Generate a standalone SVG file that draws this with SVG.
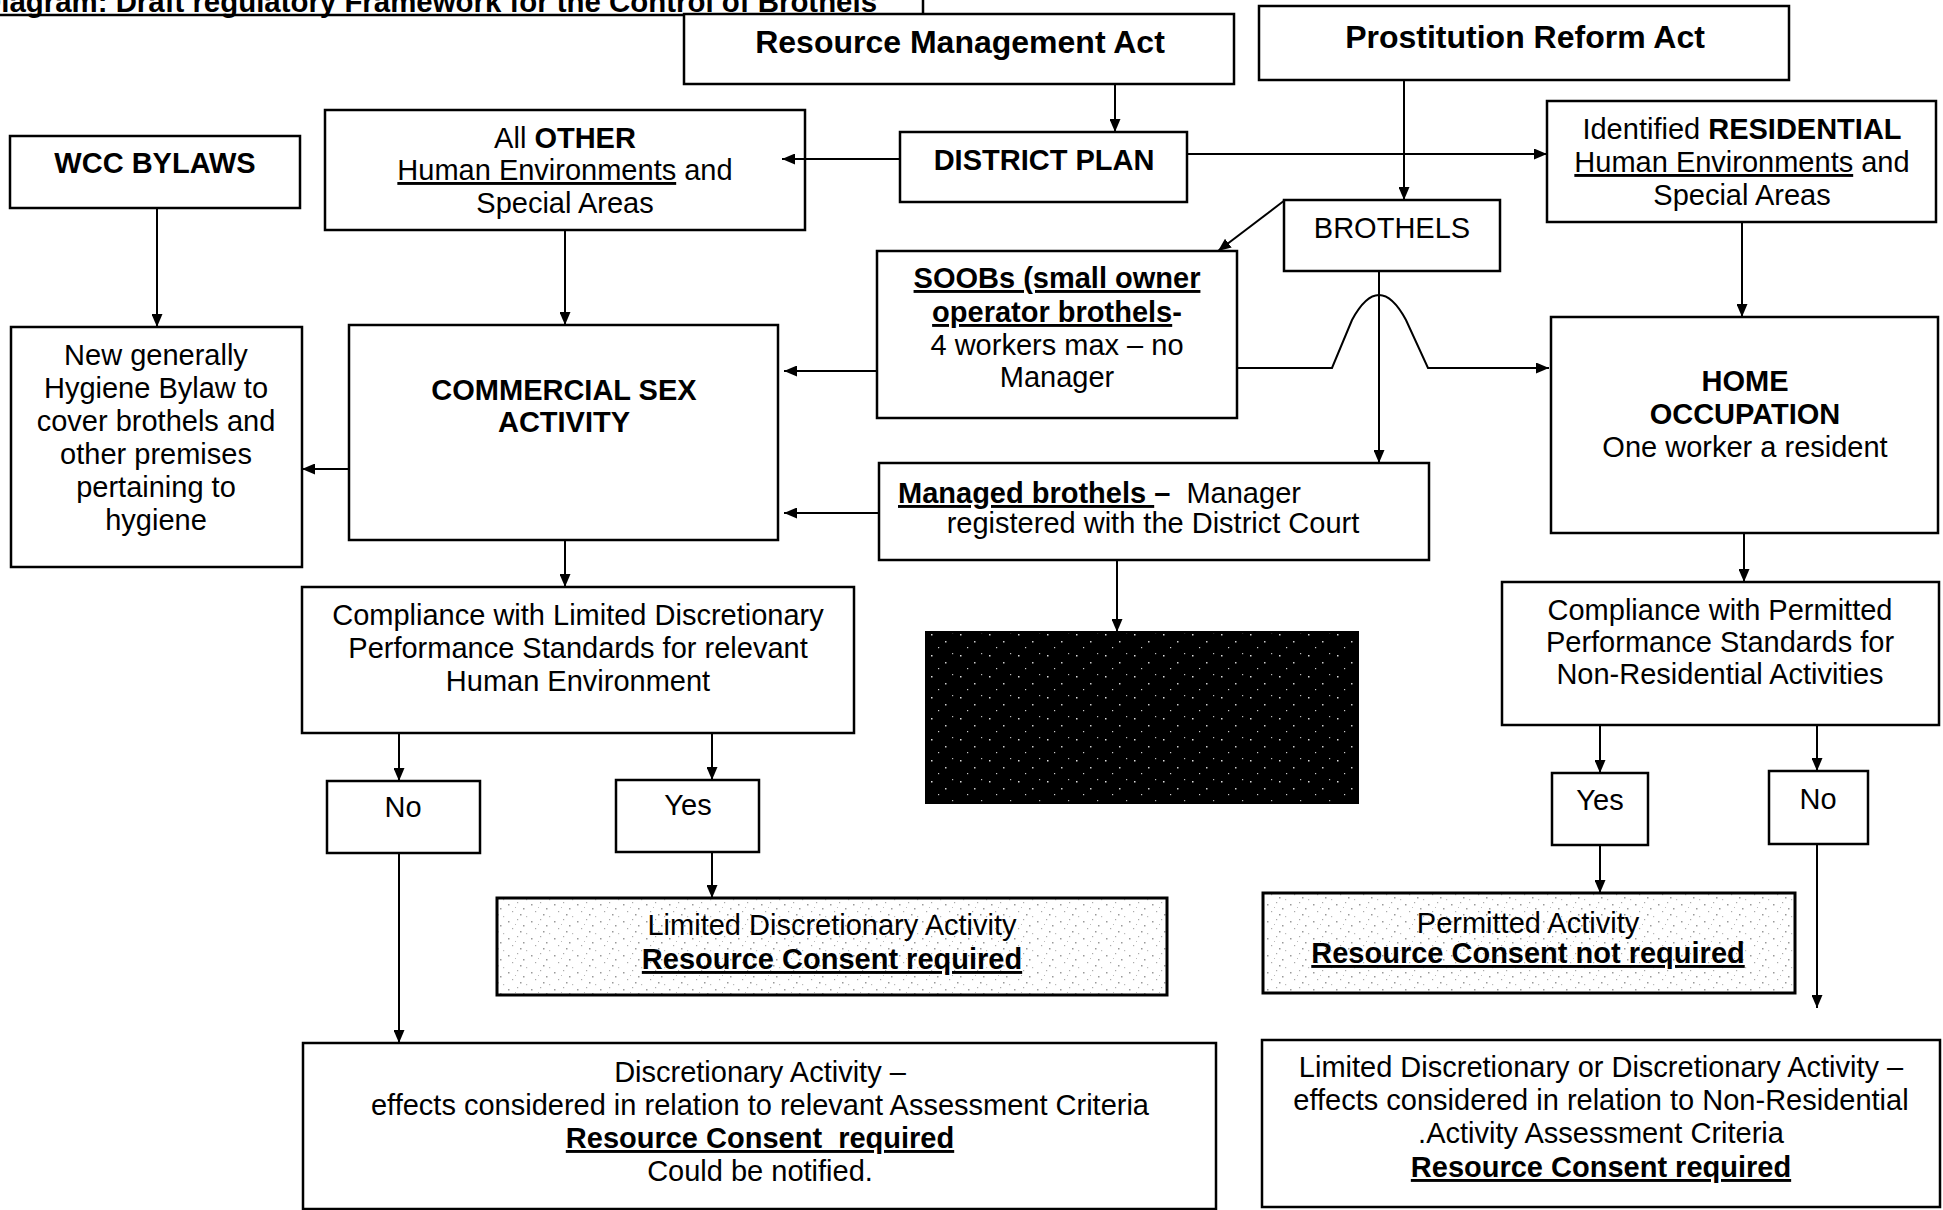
<svg xmlns="http://www.w3.org/2000/svg" width="1943" height="1210" viewBox="0 0 1943 1210">
<defs>
<marker id="ah" viewBox="0 0 13 11" refX="13" refY="5.5" markerWidth="13" markerHeight="11" markerUnits="userSpaceOnUse" orient="auto">
<path d="M0,0 L13,5.5 L0,11 z" fill="#000"/>
</marker>
<pattern id="stip" patternUnits="userSpaceOnUse" width="23" height="17">
<rect width="23" height="17" fill="#fff"/>
<rect x="2" y="3" width="1.5" height="1.5" fill="#999"/>
<rect x="11" y="1" width="1.2" height="1.2" fill="#aaa"/>
<rect x="17" y="7" width="1.5" height="1.5" fill="#999"/>
<rect x="6" y="10" width="1.2" height="1.2" fill="#aaa"/>
<rect x="14" y="13" width="1.5" height="1.5" fill="#999"/>
<rect x="20" y="15" width="1.2" height="1.2" fill="#bbb"/>
<rect x="9" y="6" width="1" height="1" fill="#bbb"/>
</pattern>
<pattern id="dark" patternUnits="userSpaceOnUse" width="29" height="21">
<rect width="29" height="21" fill="#000"/>
<rect x="3" y="4" width="1.5" height="1.5" fill="#ddd"/>
<rect x="17" y="11" width="1.5" height="1.5" fill="#ccc"/>
<rect x="24" y="2" width="1.2" height="1.2" fill="#bbb"/>
<rect x="10" y="17" width="1.2" height="1.2" fill="#ccc"/>
</pattern>
<style>
.b{fill:#fff;stroke:#000;stroke-width:2.5}
.s{fill:url(#stip);stroke:#000;stroke-width:3}
.t{font-family:"Liberation Sans",Arial,Helvetica,sans-serif;font-size:29px;fill:#000;text-anchor:middle}
.h{font-size:32px;font-weight:bold}
.bo{font-weight:bold}
.u{text-decoration:underline}
.c{fill:none;stroke:#000;stroke-width:2;marker-end:url(#ah)}
.l{fill:none;stroke:#000;stroke-width:2.5}
</style>
</defs>
<rect width="1943" height="1210" fill="#fff"/>

<g id="title">
<path class="l" d="M-2,15 L923,15 L923,-2"/>
<text class="t bo" x="-20" y="12" style="text-anchor:start" textLength="897" lengthAdjust="spacingAndGlyphs">Diagram: Draft regulatory Framework for the Control of Brothels</text>
</g>

<g id="rma">
<rect class="b" x="684" y="14" width="550" height="70"/>
<text class="t h" x="960" y="53">Resource Management Act</text>
</g>

<g id="pra">
<rect class="b" x="1259" y="6" width="530" height="74"/>
<text class="t h" x="1525" y="48">Prostitution Reform Act</text>
</g>

<g id="district-plan">
<rect class="b" x="900" y="132" width="287" height="70"/>
<text class="t bo" x="1044" y="170">DISTRICT PLAN</text>
</g>

<g id="all-other">
<rect class="b" x="325" y="110" width="480" height="120"/>
<text class="t" x="565" y="148">All <tspan class="bo">OTHER</tspan></text>
<text class="t" x="565" y="180"><tspan class="u">Human Environments</tspan> and</text>
<text class="t" x="565" y="213">Special Areas</text>
</g>

<g id="wcc-bylaws">
<rect class="b" x="10" y="136" width="290" height="72"/>
<text class="t bo" x="155" y="173">WCC BYLAWS</text>
</g>

<g id="residential">
<rect class="b" x="1547" y="101" width="389" height="121"/>
<text class="t" x="1742" y="139">Identified <tspan class="bo">RESIDENTIAL</tspan></text>
<text class="t" x="1742" y="172"><tspan class="u">Human Environments</tspan> and</text>
<text class="t" x="1742" y="205">Special Areas</text>
</g>

<g id="brothels">
<rect class="b" x="1284" y="200" width="216" height="71"/>
<text class="t" x="1392" y="238">BROTHELS</text>
</g>

<g id="soobs">
<rect class="b" x="877" y="251" width="360" height="167"/>
<text class="t bo u" x="1057" y="288">SOOBs (small owner</text>
<text class="t bo" x="1057" y="322"><tspan class="u">operator brothels</tspan>-</text>
<text class="t" x="1057" y="355">4 workers max – no</text>
<text class="t" x="1057" y="387">Manager</text>
</g>

<g id="commercial">
<rect class="b" x="349" y="325" width="429" height="215"/>
<text class="t bo" x="564" y="400">COMMERCIAL SEX</text>
<text class="t bo" x="564" y="432">ACTIVITY</text>
</g>

<g id="hygiene-bylaw">
<rect class="b" x="11" y="327" width="291" height="240"/>
<text class="t" x="156" y="365">New generally</text>
<text class="t" x="156" y="398">Hygiene Bylaw to</text>
<text class="t" x="156" y="431">cover brothels and</text>
<text class="t" x="156" y="464">other premises</text>
<text class="t" x="156" y="497">pertaining to</text>
<text class="t" x="156" y="530">hygiene</text>
</g>

<g id="home-occupation">
<rect class="b" x="1551" y="317" width="387" height="216"/>
<text class="t bo" x="1745" y="391">HOME</text>
<text class="t bo" x="1745" y="424">OCCUPATION</text>
<text class="t" x="1745" y="457">One worker a resident</text>
</g>

<g id="managed">
<rect class="b" x="879" y="463" width="550" height="97"/>
<text class="t" x="898" y="503" style="text-anchor:start" xml:space="preserve"><tspan class="bo u">Managed brothels </tspan><tspan class="bo">–</tspan>  Manager</text>
<text class="t" x="1153" y="533">registered with the District Court</text>
</g>

<g id="compliance-ld">
<rect class="b" x="302" y="587" width="552" height="146"/>
<text class="t" x="578" y="625">Compliance with Limited Discretionary</text>
<text class="t" x="578" y="658">Performance Standards for relevant</text>
<text class="t" x="578" y="691">Human Environment</text>
</g>

<g id="blacked-out">
<rect x="926" y="632" width="432" height="171" fill="url(#dark)" stroke="#000" stroke-width="2"/>
</g>

<g id="compliance-p">
<rect class="b" x="1502" y="582" width="437" height="143"/>
<text class="t" x="1720" y="620">Compliance with Permitted</text>
<text class="t" x="1720" y="652">Performance Standards for</text>
<text class="t" x="1720" y="684">Non-Residential Activities</text>
</g>

<g id="no-left">
<rect class="b" x="327" y="781" width="153" height="72"/>
<text class="t" x="403" y="817">No</text>
</g>

<g id="yes-left">
<rect class="b" x="616" y="780" width="143" height="72"/>
<text class="t" x="688" y="815">Yes</text>
</g>

<g id="yes-right">
<rect class="b" x="1552" y="773" width="96" height="72"/>
<text class="t" x="1600" y="810">Yes</text>
</g>

<g id="no-right">
<rect class="b" x="1769" y="771" width="99" height="73"/>
<text class="t" x="1818" y="809">No</text>
</g>

<g id="limited-discretionary">
<rect class="s" x="497" y="898" width="670" height="97"/>
<text class="t" x="832" y="935">Limited Discretionary Activity</text>
<text class="t bo u" x="832" y="969">Resource Consent required</text>
</g>

<g id="permitted">
<rect class="s" x="1263" y="893" width="532" height="100"/>
<text class="t" x="1528" y="933">Permitted Activity</text>
<text class="t bo u" x="1528" y="963">Resource Consent not required</text>
</g>

<g id="discretionary">
<rect class="b" x="303" y="1043" width="913" height="166"/>
<text class="t" x="760" y="1082">Discretionary Activity –</text>
<text class="t" x="760" y="1115">effects considered in relation to relevant Assessment Criteria</text>
<text class="t bo u" x="760" y="1148" xml:space="preserve">Resource Consent  required</text>
<text class="t" x="760" y="1181">Could be notified.</text>
</g>

<g id="ld-or-d">
<rect class="b" x="1262" y="1040" width="678" height="167"/>
<text class="t" x="1601" y="1077">Limited Discretionary or Discretionary Activity –</text>
<text class="t" x="1601" y="1110">effects considered in relation to Non-Residential</text>
<text class="t" x="1601" y="1143">.Activity Assessment Criteria</text>
<text class="t bo u" x="1601" y="1177">Resource Consent required</text>
</g>

<g id="connectors">
<path class="c" d="M1115,84 L1115,132"/>
<path class="c" d="M1404,80 L1404,200"/>
<path class="c" d="M900,159 L782,159"/>
<path class="c" d="M1187,154 L1547,154"/>
<path class="c" d="M1285,200 L1218,251"/>
<path class="c" d="M1379,271 L1379,463"/>
<path class="c" d="M1237,368 L1332,368 L1352,320 Q1379,270 1406,320 L1428,368 L1549,368"/>
<path class="c" d="M1742,222 L1742,317"/>
<path class="c" d="M565,230 L565,325"/>
<path class="c" d="M157,208 L157,327"/>
<path class="c" d="M877,371 L784,371"/>
<path class="c" d="M879,513 L784,513"/>
<path class="c" d="M349,469 L302,469"/>
<path class="c" d="M565,540 L565,587"/>
<path class="c" d="M1117,560 L1117,632"/>
<path class="c" d="M1744,533 L1744,582"/>
<path class="c" d="M399,733 L399,781"/>
<path class="c" d="M712,733 L712,780"/>
<path class="c" d="M712,852 L712,898"/>
<path class="c" d="M399,853 L399,1043"/>
<path class="c" d="M1600,725 L1600,773"/>
<path class="c" d="M1817,725 L1817,771"/>
<path class="c" d="M1600,845 L1600,893"/>
<path class="c" d="M1817,844 L1817,1008"/>
</g>
</svg>
